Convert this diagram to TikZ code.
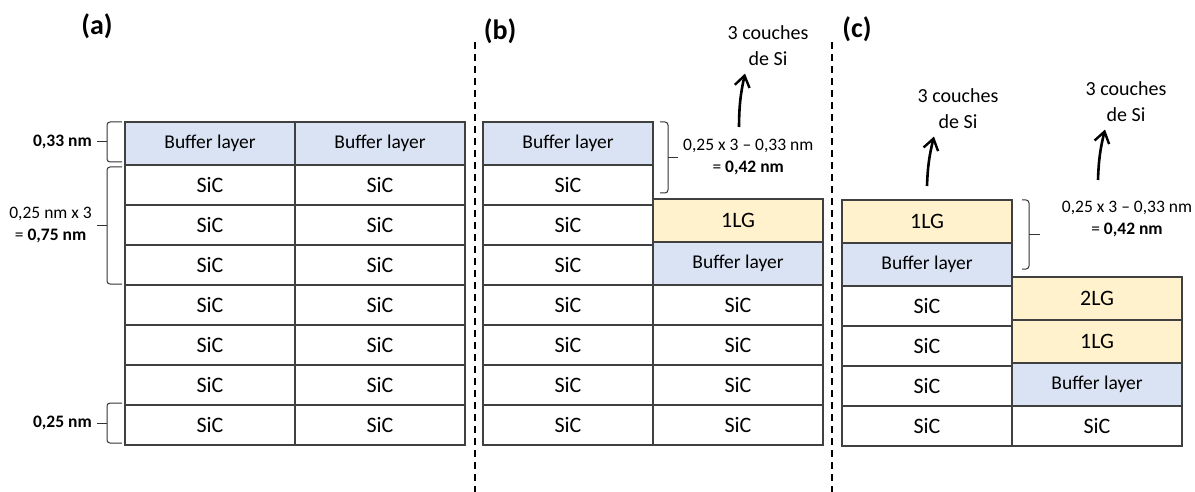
\documentclass[tikz,border=0pt]{standalone}
\usepackage{fontspec}
\setmainfont{Carlito}
\usetikzlibrary{arrows.meta,positioning,calc}
\definecolor{bufFill}{HTML}{DAE3F3}
\definecolor{grFill}{HTML}{FFF2CC}
\definecolor{cellDraw}{HTML}{404040}
\tikzset{
  x=1pt, y=-1pt,
  font=\fontsize{22}{24}\selectfont,
  cell/.style ={draw=cellDraw, line width=1.3pt, minimum width=170pt, minimum height=40pt, inner sep=0pt, outer sep=0pt},
  sic/.style  ={cell, fill=white},
  buf/.style  ={cell, fill=bufFill, minimum height=43pt, font=\fontsize{19.5}{21}\selectfont},
  gr/.style   ={cell, fill=grFill, minimum height=43pt},
  brak/.style ={line width=1pt, draw=black!80, rounded corners=3pt},
  note/.style ={align=center, font=\fontsize{17.5}{22}\selectfont},
  si/.style   ={align=center, font=\fontsize{20}{26}\selectfont},
  lab/.style  ={font=\fontsize{28}{30}\selectfont\bfseries},
  up/.style   ={-{Straight Barb[length=11pt, width=15pt, line width=2.4pt]}, line width=2.6pt},
  sep/.style  ={line width=1.5pt, dash pattern=on 7pt off 5pt},
}
\begin{document}
\begin{tikzpicture}
  \useasboundingbox (0,0) rectangle (1195,492);
  % (a) two stacks of SiC with the buffer layer on top
  \node[sic] (a1s7) at (210,425) {SiC};
  \node[sic, right=0pt of a1s7] (a2s7) {SiC};
  \foreach \i/\j in {6/7,5/6,4/5,3/4,2/3,1/2} {
    \node[sic, above=0pt of a1s\j] (a1s\i) {SiC};
    \node[sic, above=0pt of a2s\j] (a2s\i) {SiC};
  }
  \node[buf, above=0pt of a1s1] (a1b) {Buffer layer};
  \node[buf, above=0pt of a2s1] (a2b) {Buffer layer};
  \node[lab] (la) at (97,26) {(a)};

  % brackets (a)
  \coordinate (t1) at ([xshift=-3pt]a1b.north west);
  \coordinate (b1) at ([shift={(-3pt,3pt)}]a1b.south west);
  \coordinate (m1) at ([xshift=-15pt]$(t1)!0.5!(b1)$);
  \draw[brak] (t1) -| (m1) |- (b1);
  \draw[brak] (m1) -- ++(-10,0) coordinate (e1);
  \node[anchor=east, inner sep=5pt, font=\fontsize{17.5}{22}\selectfont\bfseries] at (e1) {0,33 nm};

  \coordinate (t2) at ([shift={(-3pt,-2pt)}]a1s1.north west);
  \coordinate (b2) at ([shift={(-3pt,1pt)}]a1s3.south west);
  \coordinate (m2) at ([xshift=-15pt]$(t2)!0.5!(b2)$);
  \draw[brak] (t2) -| (m2) |- (b2);
  \draw[brak] (m2) -- ++(-10,0) coordinate (e2);
  \node[note, anchor=east, inner sep=5pt] at (e2) {0,25 nm x 3\\= \textbf{0,75 nm}};

  \coordinate (t3) at ([shift={(-3pt,2pt)}]a1s7.north west);
  \coordinate (b3) at ([shift={(-3pt,2pt)}]a1s7.south west);
  \coordinate (m3) at ([xshift=-15pt]$(t3)!0.5!(b3)$);
  \draw[brak] (t3) -| (m3) |- (b3);
  \draw[brak] (m3) -- ++(-10,0) coordinate (e3);
  \node[anchor=east, inner sep=5pt, font=\fontsize{17.5}{22}\selectfont\bfseries] at (e3) {0,25 nm};

  \draw[sep] (475,42) -- (475,492);

  % (b) three Si layers gone on the right stack
  \node[sic] (b1s7) at (568,425) {SiC};
  \node[sic, right=0pt of b1s7] (b2s7) {SiC};
  \foreach \i/\j in {6/7,5/6,4/5,3/4,2/3,1/2}
    \node[sic, above=0pt of b1s\j] (b1s\i) {SiC};
  \foreach \i/\j in {6/7,5/6,4/5}
    \node[sic, above=0pt of b2s\j] (b2s\i) {SiC};
  \node[buf, above=0pt of b1s1] (b1b) {Buffer layer};
  \node[buf, above=0pt of b2s4] (b2b) {Buffer layer};
  \node[gr,  above=0pt of b2b]  (b2g) {1LG};
  \node[lab] (lb) at (500,31) {(b)};

  \coordinate (t4) at ([xshift=7pt]b1b.north east);
  \coordinate (b4) at ([shift={(7pt,-8pt)}]b1s1.east);
  \coordinate (m4) at ([xshift=8pt]$(t4)!0.5!(b4)$);
  \draw[brak] (t4) -| (m4) |- (b4);
  \draw[brak] (m4) -- ++(10,0) coordinate (e4);
  \node[note, anchor=west, inner sep=5pt] (bn) at (e4) {0,25 x 3 -- 0,33 nm\\= \textbf{0,42 nm}};

  \node[si] (bsi) at (768,46) {3 couches\\de Si};
  \coordinate (bf) at (739,127);
  \draw[up] (bf) to[bend left=6] ([shift={(-23pt,-4pt)}]bsi.south);

  \draw[sep] (832,42) -- (832,492);

  % (c) bilayer on the right stack
  \node[sic] (c1s4) at (927,426) {SiC};
  \node[sic, right=0pt of c1s4] (c2s4) {SiC};
  \foreach \i/\j in {3/4,2/3,1/2}
    \node[sic, above=0pt of c1s\j] (c1s\i) {SiC};
  \node[buf, above=0pt of c1s1] (c1b)  {Buffer layer};
  \node[gr,  above=0pt of c1b]  (c1g)  {1LG};
  \node[buf, above=0pt of c2s4] (c2b)  {Buffer layer};
  \node[gr,  above=0pt of c2b]  (c2g1) {1LG};
  \node[gr,  above=0pt of c2g1] (c2g2) {2LG};
  \node[lab] (lc) at (857,29) {(c)};

  \coordinate (t5) at ([xshift=10pt]c1g.north east);
  \coordinate (b5) at ([shift={(10pt,-4.5pt)}]c1b.east);
  \coordinate (m5) at ([xshift=7pt]$(t5)!0.5!(b5)$);
  \draw[brak] (t5) -| (m5) |- (b5);
  \draw[brak] (m5) -- ++(11,0) coordinate (e5);
  \node[note] (cn) at (1127,219) {0,25 x 3 -- 0,33 nm\\= \textbf{0,42 nm}};

  \node[si] (csi1) at (958,109) {3 couches\\de Si};
  \coordinate (cf1) at (927,186);
  \draw[up] (cf1) to[bend left=6] ([shift={(-24pt,-4pt)}]csi1.south);

  \node[si] (csi2) at (1126,102) {3 couches\\de Si};
  \coordinate (cf2) at (1098,180);
  \draw[up] (cf2) to[bend left=6] ([shift={(-21pt,-4pt)}]csi2.south);
\end{tikzpicture}
\end{document}
